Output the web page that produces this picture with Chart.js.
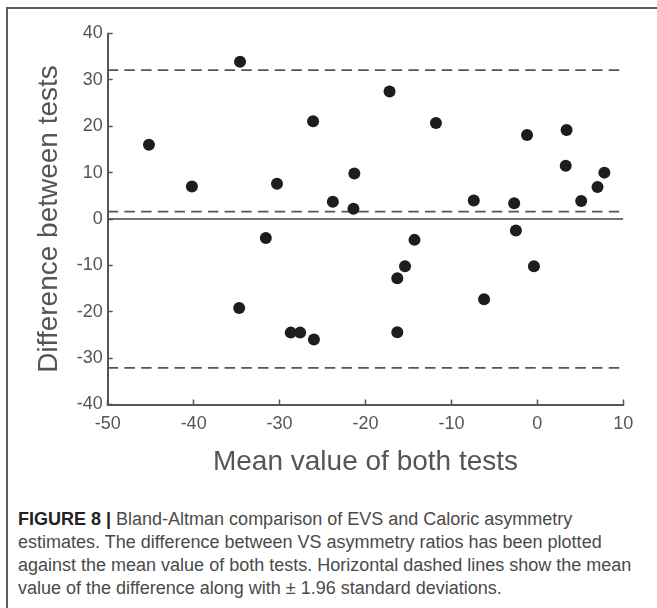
<!DOCTYPE html>
<html>

<head>
    <meta charset="UTF-8">
    <title>Bland-Altman comparison</title>
    <script src="https://cdn.jsdelivr.net/npm/chart.js"></script>
    <style>
        body {
            margin: 0;
            width: 657px;
            height: 608px;
            overflow: hidden;
            background: #fff;
            position: relative;
            font-family: "Liberation Sans", Arial, sans-serif;
        }

        #frame {
            position: absolute;
            left: 6px;
            top: 7px;
            width: 700px;
            height: 700px;
            border: 2px solid #5c5c5c;
        }

        #chartBox {
            position: absolute;
            left: 0;
            top: 0;
        }

        #caption {
            position: absolute;
            left: 18px;
            top: 508px;
            font-size: 18px;
            line-height: 23.1px;
            color: #4a4a4a;
            white-space: nowrap;
        }

        #caption b {
            color: #222;
        }
    </style>
</head>

<body>
    <div id="frame"></div>
    <canvas id="chartBox" width="657" height="480"></canvas>
    <div id="caption">
        <b>FIGURE 8 |</b> Bland-Altman comparison of EVS and Caloric asymmetry<br>
        estimates. The difference between VS asymmetry ratios has been plotted<br>
        against the mean value of both tests. Horizontal dashed lines show the mean<br>
        value of the difference along with &plusmn; 1.96 standard deviations.
    </div>

    <script>
        // mean of both tests (x) and difference between tests (y)
        const meanValues = [-45.2, -40.2, -34.6, -30.3, -26.1, -21.3, -23.8, -21.4, -31.6, -17.2,
            -11.8, -1.2, 3.4, 3.3, 7.8, 7.0, 5.1, -7.4, -2.7, -14.3,
            -2.5, -34.7, -28.7, -27.6, -26.0, -15.4, -16.3, -16.3, -6.2, -0.4];
        const differences = [16.0, 7.0, 33.9, 7.6, 21.1, 9.8, 3.7, 2.2, -4.1, 27.5,
            20.7, 18.1, 19.2, 11.5, 10.0, 6.9, 3.9, 4.0, 3.4, -4.5,
            -2.5, -19.2, -24.5, -24.5, -26.0, -10.2, -12.8, -24.4, -17.3, -10.2];

        // mean difference and +/- 1.96 SD limits
        const upperLimit = 32.1;
        const meanDifference = 1.6;
        const lowerLimit = -32.1;
        const zeroLevel = 0;
        const lineSpan = [-50, 10];

        const xRange = { min: -50, max: 10, step: 10 };
        const yRange = { min: -40, max: 40, step: 10 };

        const fontFamily = "'Liberation Sans', Arial, sans-serif";
        const axisColor = "#555";

        const levelLine = (level, dashed) => ({
            type: "line",
            data: lineSpan.map(x => ({ x: x, y: level })),
            borderColor: dashed ? "#555" : "#444",
            borderWidth: 1.7,
            borderDash: dashed ? [10.5, 6.2] : [],
            pointRadius: 0,
            fill: false,
        });

        const ctx = document.getElementById("chartBox").getContext("2d");

        new Chart(ctx, {
            type: "scatter",
            data: {
                datasets: [
                    {
                        label: "Difference",
                        data: meanValues.map((x, i) => ({ x: x, y: differences[i] })),
                        pointRadius: 6,
                        pointHoverRadius: 6,
                        backgroundColor: "#1d1d1d",
                        borderWidth: 0,
                    },
                    levelLine(upperLimit, true),
                    levelLine(meanDifference, true),
                    levelLine(lowerLimit, true),
                    levelLine(zeroLevel, false),
                ]
            },
            options: {
                responsive: false,
                animation: false,
                layout: { padding: { top: 33.5, right: 33.7, bottom: 0, left: 0 } },
                plugins: {
                    legend: { display: false },
                    tooltip: { enabled: false }
                },
                scales: {
                    x: {
                        type: "linear",
                        min: xRange.min,
                        max: xRange.max,
                        ticks: {
                            stepSize: xRange.step,
                            color: axisColor,
                            font: { family: fontFamily, size: 18 },
                            padding: 14,
                            maxRotation: 0
                        },
                        grid: { drawOnChartArea: false, tickLength: -5, tickColor: axisColor, tickWidth: 1.5 },
                        border: { color: axisColor, width: 2 },
                        title: {
                            display: true,
                            text: "Mean value of both tests",
                            color: axisColor,
                            font: { family: fontFamily, size: 28 },
                            padding: { top: 0, bottom: 1.2 }
                        },
                        afterFit: scale => { scale.height = 75.5; }
                    },
                    y: {
                        type: "linear",
                        min: yRange.min,
                        max: yRange.max,
                        ticks: {
                            stepSize: yRange.step,
                            color: axisColor,
                            font: { family: fontFamily, size: 18 },
                            padding: 10
                        },
                        grid: { drawOnChartArea: false, tickLength: -5, tickColor: axisColor, tickWidth: 1.5 },
                        border: { color: axisColor, width: 2 },
                        title: {
                            display: true,
                            text: "Difference between tests",
                            color: axisColor,
                            font: { family: fontFamily, size: 28 },
                            padding: { top: 32.8, bottom: 0 }
                        },
                        afterFit: scale => { scale.width = 107.7; }
                    }
                }
            }
        });
    </script>
</body>

</html>
